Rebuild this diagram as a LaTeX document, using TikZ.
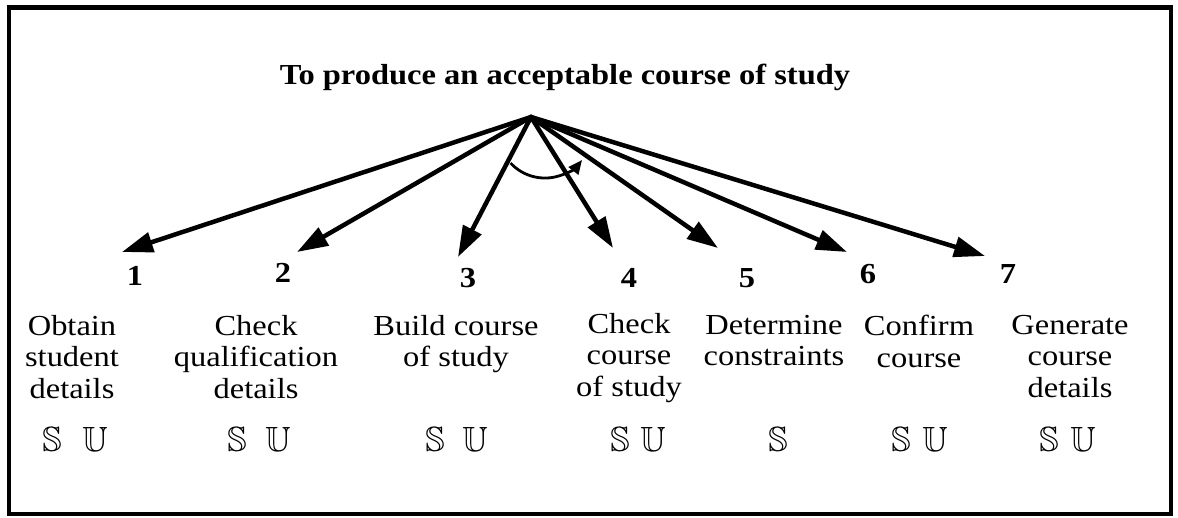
\documentclass[tikz,border=0pt]{standalone}
\usepackage{amssymb}
\usepackage{fontspec}
\setmainfont{Liberation Serif}[FakeStretch=1.12]
\usetikzlibrary{arrows.meta}

\begin{document}
\begin{tikzpicture}[x=1pt, y=1pt,
        goal/.style={font=\fontsize{29}{31}\bfseries, inner sep=0pt, anchor=base},
        num/.style={font=\fontsize{29}{31}\bfseries, inner sep=0pt, anchor=base},
        task/.style={font=\fontsize{29}{31.5}\selectfont, align=center, anchor=north, inner sep=0pt},
        flag/.style={font=\fontsize{35}{35}\selectfont, inner sep=0pt, anchor=base},
        link/.style={draw=black, line width=4.5pt, line cap=round, -{Triangle[length=31pt,width=20pt]}}]
        \useasboundingbox (0,0) rectangle (1178,-517);

        \draw[draw=black, line width=4pt] (8.5,-7.5) rectangle (1170.5,-513.5);
        \draw[draw=black, line width=5.5pt] (6.5,-7.5) -- (1172.5,-7.5);

        \node[goal] (goal) at (565,-84) {To produce an acceptable course of study};
        \coordinate (top) at (531,-117);

        \coordinate (t1) at (122,-252);
        \coordinate (t2) at (297,-252);
        \coordinate (t3) at (458,-257);
        \coordinate (t4) at (613,-248);
        \coordinate (t5) at (718,-248);
        \coordinate (t6) at (847,-252);
        \coordinate (t7) at (985,-256);

        \draw[link] (top) -- (t1);
        \draw[link] (top) -- (t2);
        \draw[link] (top) -- (t3);
        \draw[link] (top) -- (t4);
        \draw[link] (top) -- (t5);
        \draw[link] (top) -- (t6);
        \draw[link] (top) -- (t7);

        \coordinate (seq) at (510.6,-163.1);
        \draw[draw=black, line width=2.8pt, -{Triangle[length=14pt,width=12pt]}] (seq) arc[start angle=-137, end angle=-38, radius=47];

        \node[num] (n1) at (135,-285) {1};
        \node[num] (n2) at (283,-282) {2};
        \node[num] (n3) at (468,-287) {3};
        \node[num] (n4) at (629,-287) {4};
        \node[num] (n5) at (747,-287) {5};
        \node[num] (n6) at (868,-283) {6};
        \node[num] (n7) at (1008,-283) {7};

        \node[task] (l1) at (72,-315) {Obtain\\student\\details};
        \node[task] (l2) at (256,-315) {Check\\qualification\\details};
        \node[task] (l3) at (456,-315) {Build course\\of study};
        \node[task] (l4) at (629,-313) {Check\\course\\of study};
        \node[task] (l5) at (774,-315) {Determine\\constraints};
        \node[task] (l6) at (919,-315) {Confirm\\course};
        \node[task] (l7) at (1070,-315) {Generate\\course\\details};

        \node[flag] (s1) at (52,-451) {$\mathbb{S}$};
        \node[flag] (u1) at (95,-451) {$\mathbb{U}$};
        \node[flag] (s2) at (237,-451) {$\mathbb{S}$};
        \node[flag] (u2) at (278,-451) {$\mathbb{U}$};
        \node[flag] (s3) at (435,-451) {$\mathbb{S}$};
        \node[flag] (u3) at (475,-451) {$\mathbb{U}$};
        \node[flag] (s4) at (620,-451) {$\mathbb{S}$};
        \node[flag] (u4) at (653,-451) {$\mathbb{U}$};
        \node[flag] (s5) at (778,-451) {$\mathbb{S}$};
        \node[flag] (s6) at (901,-451) {$\mathbb{S}$};
        \node[flag] (u6) at (935,-451) {$\mathbb{U}$};
        \node[flag] (s7) at (1049,-451) {$\mathbb{S}$};
        \node[flag] (u7) at (1083,-451) {$\mathbb{U}$};
\end{tikzpicture}
\end{document}
